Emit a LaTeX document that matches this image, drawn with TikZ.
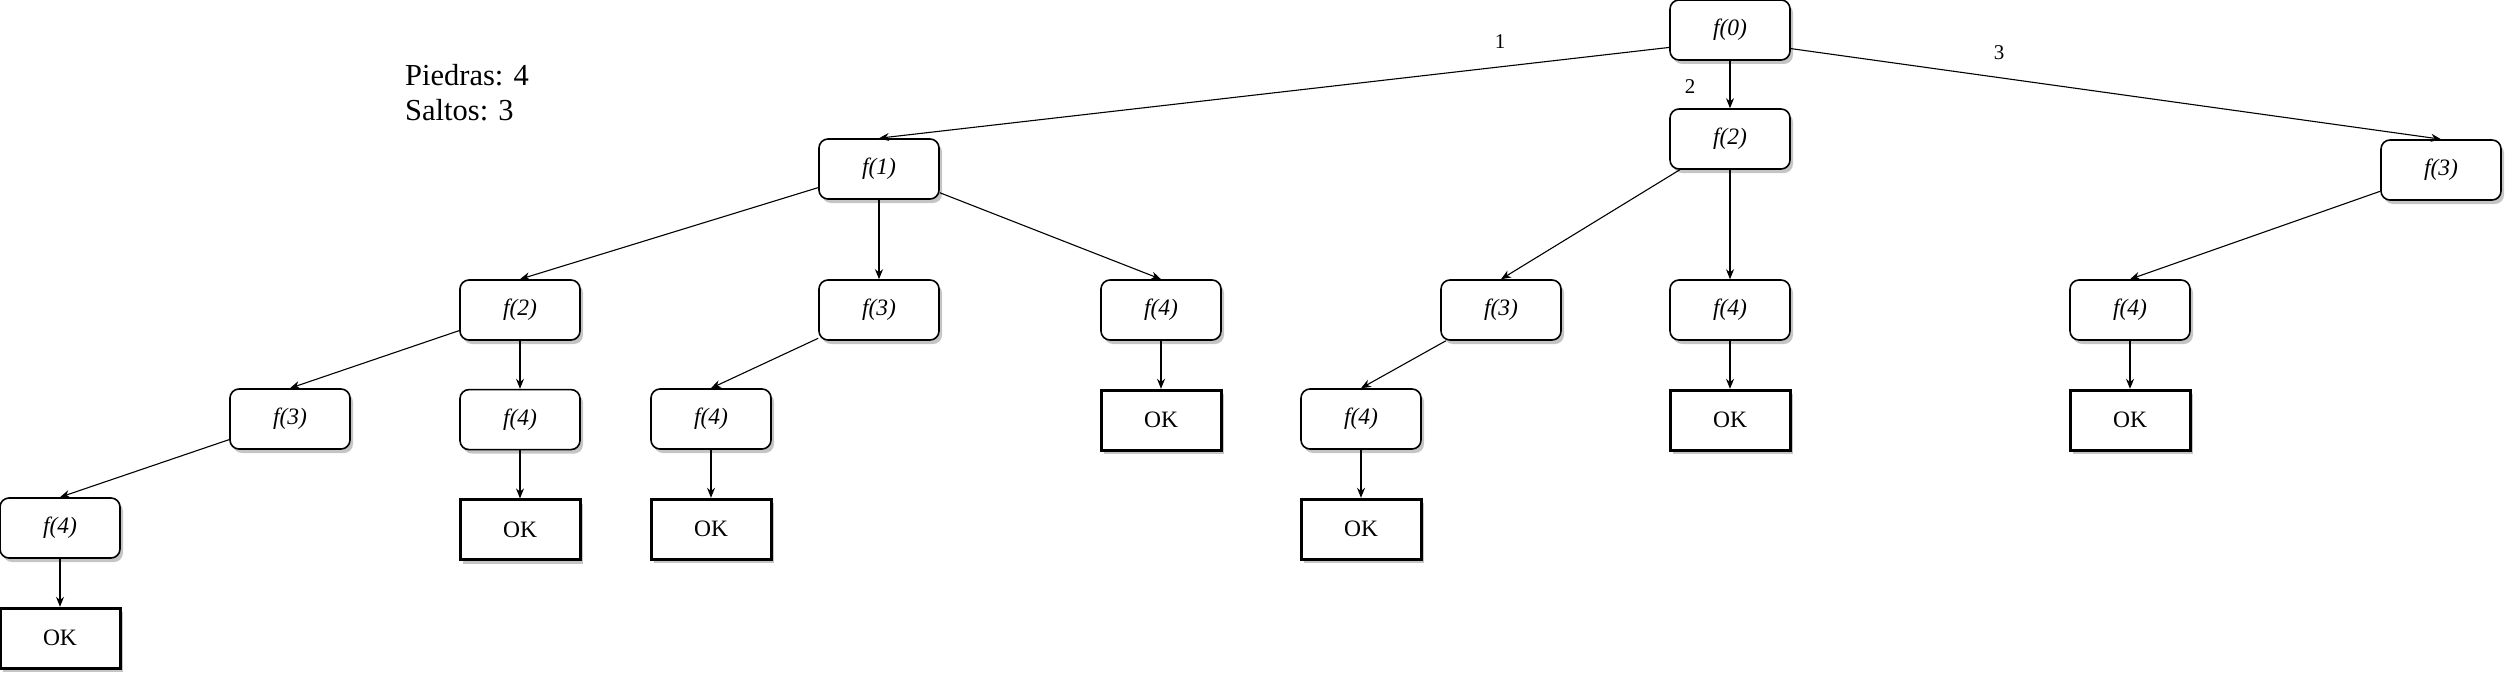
\documentclass[tikz,border=0pt]{standalone}
\usepackage{fontspec}
\setmainfont{Liberation Serif}
\usetikzlibrary{arrows.meta, shadows, positioning}

\begin{document}
\begin{tikzpicture}[
  x=1pt, y=-1pt,
  node distance=48pt,
  >={Stealth[length=10pt, width=8pt]},
  font=\fontsize{23.5}{28}\selectfont,
  box/.style={
    rectangle, rounded corners=9pt,
    draw=black, line width=1.6pt,
    fill=white,
    minimum width=120pt, minimum height=60pt,
    inner sep=0pt,
    drop shadow={shadow xshift=3pt, shadow yshift=-4pt, fill=black!45, opacity=0.5}
  },
  okbox/.style={box, sharp corners, line width=3pt},
  arrow/.style={->, line width=1.1pt},
  lbl/.style={font=\fontsize{21}{25}\selectfont, inner sep=0pt}
]
\useasboundingbox (0,0) rectangle (2517,685);

% Info text
\node[anchor=north west, inner sep=0pt, align=left,
  font=\fontsize{30.5}{35}\selectfont] (info) at (405,64) {Piedras: 4\\Saltos: 3};

% Root and first level
\node[box] (f0)  at (1730,30)  {\textit{f(0)}};
\node[box] (f1)  at (879,169)  {\textit{f(1)}};
\node[box] (f2a) at (1730,139) {\textit{f(2)}};
\node[box] (f3a) at (2441,170) {\textit{f(3)}};

% Second level
\node[box] (f2b) at (520,310)  {\textit{f(2)}};
\node[box] (f3b) at (879,310)  {\textit{f(3)}};
\node[box] (f4b) at (1161,310) {\textit{f(4)}};
\node[box] (f3c) at (1501,310) {\textit{f(3)}};
\node[box] (f4c) at (1730,310) {\textit{f(4)}};
\node[box] (f4d) at (2130,310) {\textit{f(4)}};

% Third level
\node[box] (f3d) at (290,419) {\textit{f(3)}};
\node[box, below=of f2b] (f4e) {\textit{f(4)}};
\node[box] (f4f) at (711,419) {\textit{f(4)}};
\node[okbox, below=of f4b] (ok1) {OK};
\node[box] (f4g) at (1361,419) {\textit{f(4)}};
\node[okbox, below=of f4c] (ok2) {OK};
\node[okbox, below=of f4d] (ok3) {OK};

% Fourth and fifth level
\node[box] (f4h) at (60,528) {\textit{f(4)}};
\node[okbox, below=of f4e] (ok4) {OK};
\node[okbox, below=of f4f] (ok5) {OK};
\node[okbox, below=of f4g] (ok6) {OK};
\node[okbox, below=of f4h] (ok7) {OK};

% Edge labels
\node[lbl] (l1) at (1500,42) {1};
\node[lbl] (l2) at (1690,87) {2};
\node[lbl] (l3) at (1999,53) {3};

% Arrows
\draw[arrow] (f0.196.7) -- (f1.north);
\draw[arrow] (f0) -- (f2a);
\draw[arrow] (f0.343.3) -- (f3a.north);
\draw[arrow] (f1) -- (f2b.north);
\draw[arrow, line width=2pt] (f1) -- (f3b);
\draw[arrow] (f1) -- (f4b.north);
\draw[arrow] (f2a) -- (f3c.north);
\draw[arrow] (f2a) -- (f4c);
\draw[arrow] (f3a) -- (f4d.north);
\draw[arrow] (f2b) -- (f3d.north);
\draw[arrow] (f2b) -- (f4e);
\draw[arrow] (f3b) -- (f4f.north);
\draw[arrow] (f4b) -- (ok1);
\draw[arrow] (f3c) -- (f4g.north);
\draw[arrow] (f4c) -- (ok2);
\draw[arrow] (f4d) -- (ok3);
\draw[arrow] (f3d) -- (f4h.north);
\draw[arrow] (f4e) -- (ok4);
\draw[arrow] (f4f) -- (ok5);
\draw[arrow] (f4g) -- (ok6);
\draw[arrow] (f4h) -- (ok7);

\end{tikzpicture}
\end{document}
